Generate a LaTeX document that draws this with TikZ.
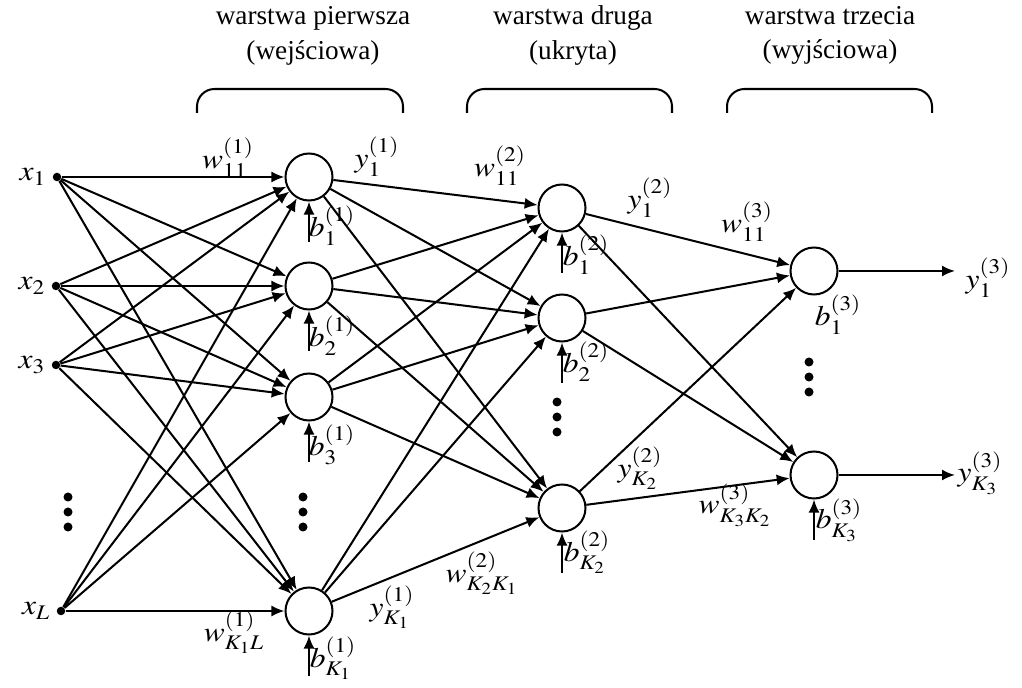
\documentclass[tikz,border=0pt]{standalone}
\usepackage{mathptmx}
\usepackage[no-math]{fontspec}
\setmainfont{Liberation Serif}
\usetikzlibrary{arrows.meta,calc,positioning}
\tikzset{
	neuron/.style={circle, draw, line width=1.15pt, minimum size=0.94cm, inner sep=0pt},
	inpt/.style={circle, fill=black, inner sep=0pt, minimum size=0.17cm},
	conn/.style={line width=1.15pt, -{Latex[length=2.6mm,width=2.2mm]}},
	lbl/.style={font=\fontsize{16}{19}\selectfont},
	ttl/.style={font=\fontsize{15.5}{19.8}\selectfont, align=center}
}
\newcommand{\wide}[1]{\scalebox{1.12}[1]{$#1$}}
\def\layerbrace(#1:#2){\draw[line width=1.15pt, rounded corners=0.35cm] (#1, 11.48) -- (#1, 11.96) -- (#2, 11.96) -- (#2, 11.48);}
\def\vdotsbig(#1,#2){\fill (#1, #2) circle (0.09); \fill (#1, #2-0.3) circle (0.09); \fill (#1, #2-0.6) circle (0.09);}

\begin{document}
\begin{tikzpicture}
			%%%%% START %%%%%
			\useasboundingbox (0, 0) rectangle (20.44, 13.74);
			
			\node[ttl] (t1) at (6.26, 13.03) {warstwa pierwsza\\(wejściowa)};
			\node[ttl] (t2) at (11.46, 13.03) {warstwa druga\\(ukryta)};
			\node[ttl] (t3) at (16.60, 13.03) {warstwa trzecia\\(wyjściowa)};
			\layerbrace(3.94:8.06)
			\layerbrace(9.34:13.44)
			\layerbrace(14.54:18.64)
			
			\node[inpt] (x1) at (1.14, 10.20) {};
			\node[inpt] (x2) at (1.12, 8.02) {};
			\node[inpt] (x3) at (1.12, 6.44) {};
			\node[inpt] (xL) at (1.22, 1.52) {};
			\node[lbl, left=0pt of x1] {\wide{x_1}};
			\node[lbl, left=0pt of x2] {\wide{x_2}};
			\node[lbl, left=0pt of x3] {\wide{x_3}};
			\node[lbl, left=0pt of xL] {\wide{x_L}};
			\vdotsbig(1.36, 3.80)
			
			\node[neuron] (n11) at (6.18, 10.20) {};
			\node[neuron] (n12) at (6.18, 8.02) {};
			\node[neuron] (n13) at (6.18, 5.80) {};
			\node[neuron] (n1K) at (6.18, 1.52) {};
			\vdotsbig(6.06, 3.80)
			
			\node[neuron] (n21) at (11.24, 9.58) {};
			\node[neuron] (n22) at (11.24, 7.38) {};
			\node[neuron] (n2K) at (11.24, 3.58) {};
			\vdotsbig(11.14, 5.70)
			
			\node[neuron] (n31) at (16.28, 8.32) {};
			\node[neuron] (n3K) at (16.28, 4.24) {};
			\vdotsbig(16.18, 6.50)
			
			% inputs -> layer 1
			\draw[conn] (x1) -- (n11);
			\draw[conn] (x1) -- (n12);
			\draw[conn] (x1) -- (n13);
			\draw[conn] (x1) -- (n1K);
			\draw[conn] (x2) -- (n11);
			\draw[conn] (x2) -- (n12);
			\draw[conn] (x2) -- (n13);
			\draw[conn] (x2) -- (n1K);
			\draw[conn] (x3) -- (n11);
			\draw[conn] (x3) -- (n12);
			\draw[conn] (x3) -- (n13);
			\draw[conn] (x3) -- (n1K);
			\draw[conn] (xL) -- (n11);
			\draw[conn] (xL) -- (n12);
			\draw[conn] (xL) -- (n13);
			\draw[conn] (xL) -- (n1K);
			
			% layer 1 -> layer 2
			\draw[conn] (n11) -- (n21);
			\draw[conn] (n11) -- (n22);
			\draw[conn] (n11) -- (n2K);
			\draw[conn] (n12) -- (n21);
			\draw[conn] (n12) -- (n22);
			\draw[conn] (n12) -- (n2K);
			\draw[conn] (n13) -- (n21);
			\draw[conn] (n13) -- (n22);
			\draw[conn] (n13) -- (n2K);
			\draw[conn] (n1K) -- (n21);
			\draw[conn] (n1K) -- (n22);
			\draw[conn] (n1K) -- (n2K);
			
			% layer 2 -> layer 3
			\draw[conn] (n21) -- (n31);
			\draw[conn] (n21) -- (n3K);
			\draw[conn] (n22) -- (n31);
			\draw[conn] (n22) -- (n3K);
			\draw[conn] (n2K) -- (n31);
			\draw[conn] (n2K) -- (n3K);
			
			% outputs
			\coordinate (o1) at (19.10, 8.32);
			\coordinate (oK) at (19.10, 4.24);
			\draw[conn] (n31) -- (o1);
			\draw[conn] (n3K) -- (oK);
			
			% biases
			\coordinate (b11) at ($(n11.south)+(0,-0.8)$);
			\coordinate (b12) at ($(n12.south)+(0,-0.8)$);
			\coordinate (b13) at ($(n13.south)+(0,-0.8)$);
			\coordinate (b1K) at ($(n1K.south)+(0,-0.8)$);
			\coordinate (b21) at ($(n21.south)+(0,-0.8)$);
			\coordinate (b22) at ($(n22.south)+(0,-0.8)$);
			\coordinate (b2K) at ($(n2K.south)+(0,-0.8)$);
			\coordinate (b3K) at ($(n3K.south)+(0,-0.8)$);
			\draw[conn] (b11) -- (n11);
			\draw[conn] (b12) -- (n12);
			\draw[conn] (b13) -- (n13);
			\draw[conn] (b1K) -- (n1K);
			\draw[conn] (b21) -- (n21);
			\draw[conn] (b22) -- (n22);
			\draw[conn] (b2K) -- (n2K);
			\draw[conn] (b3K) -- (n3K);
			
			% labels
			\node[lbl] (lw111) at (4.56, 10.58) {\wide{w^{(1)}_{11}}};
			\node[lbl] (lwK1L) at (4.68, 1.10) {\wide{w^{(1)}_{K_1L}}};
			\node[lbl] (ly11) at (7.54, 10.60) {\wide{y^{(1)}_1}};
			\node[lbl] (ly1K) at (7.84, 1.60) {\wide{y^{(1)}_{K_1}}};
			\node[lbl] (lb11) at (6.64, 9.22) {\wide{b^{(1)}_1}};
			\node[lbl] (lb12) at (6.64, 7.02) {\wide{b^{(1)}_2}};
			\node[lbl] (lb13) at (6.64, 4.84) {\wide{b^{(1)}_3}};
			\node[lbl] (lb1K) at (6.66, 0.58) {\wide{b^{(1)}_{K_1}}};
			
			\node[lbl] (lw211) at (10.00, 10.42) {\wide{w^{(2)}_{11}}};
			\node[lbl] (lw2K) at (9.64, 2.28) {\wide{w^{(2)}_{K_2K_1}}};
			\node[lbl] (ly21) at (13.00, 9.78) {\wide{y^{(2)}_1}};
			\node[lbl] (ly2K) at (12.80, 4.38) {\wide{y^{(2)}_{K_2}}};
			\node[lbl] (lb21) at (11.72, 8.64) {\wide{b^{(2)}_1}};
			\node[lbl] (lb22) at (11.72, 6.50) {\wide{b^{(2)}_2}};
			\node[lbl] (lb2K) at (11.74, 2.70) {\wide{b^{(2)}_{K_2}}};
			
			\node[lbl] (lw311) at (14.94, 9.30) {\wide{w^{(3)}_{11}}};
			\node[lbl] (lw3K) at (14.70, 3.64) {\wide{w^{(3)}_{K_3K_2}}};
			\node[lbl] (lb31) at (16.76, 7.44) {\wide{b^{(3)}_1}};
			\node[lbl] (lb3K) at (16.78, 3.34) {\wide{b^{(3)}_{K_3}}};
			\node[lbl] (ly31) at (19.76, 8.18) {\wide{y^{(3)}_1}};
			\node[lbl] (ly3K) at (19.60, 4.28) {\wide{y^{(3)}_{K_3}}};
			
			%%%%% END %%%%%
\end{tikzpicture}
\end{document}
